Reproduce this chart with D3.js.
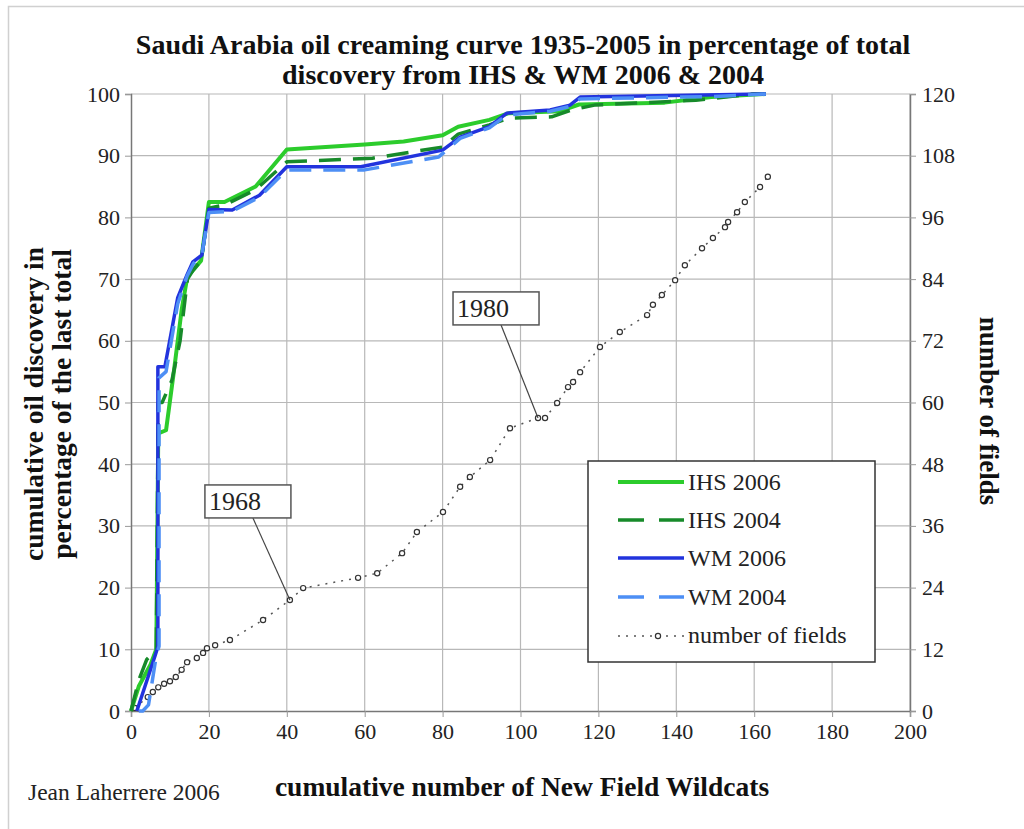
<!DOCTYPE html>
<html>
<head>
<meta charset="utf-8">
<script src="https://cdn.jsdelivr.net/npm/d3@7"></script>
<style>
  body { margin: 0; background: #fff; }
  text { font-family: "Liberation Serif", "Times New Roman", serif; }
</style>
</head>
<body>
<script>
// --- data ---
var ihs2006X = [0, 2, 5, 6.5, 7, 9, 11, 13, 14.5, 16, 18, 20, 24, 32, 40, 60, 70, 80, 84, 92, 97, 110, 115, 137, 149, 163];
var ihs2006Y = [0, 4, 7.5, 10, 45, 45.5, 55, 65, 70.5, 71.5, 73, 82.5, 82.5, 85, 91, 91.8, 92.3, 93.3, 94.7, 95.8, 96.9, 97.2, 98.3, 98.6, 99.5, 100];

var ihs2004X = [0, 2, 4, 6.5, 7, 8, 10.5, 12.6, 14.5, 16, 18, 20, 24, 32, 40, 62, 80, 84, 92, 97, 108, 113, 119, 145, 160, 163];
var ihs2004Y = [0, 5, 8.3, 10, 50, 50, 53.6, 60, 70, 71.5, 73, 81.5, 82, 84.5, 89, 89.6, 91.4, 93.5, 95, 96.1, 96.3, 97.4, 98.2, 99, 100, 100];

var wm2006X = [1.5, 6.2, 6.9, 6.9, 8.7, 12, 14.4, 15.9, 18.2, 20, 26, 33, 40, 59, 80, 84.5, 92, 96.5, 107.6, 112.7, 115.3, 163];
var wm2006Y = [0, 9, 10.4, 55.8, 55.8, 67, 70.7, 72.8, 73.9, 81.3, 81.2, 83.6, 88.2, 88.2, 90.9, 93, 94.7, 96.9, 97.4, 98.2, 99.5, 100];

var wm2004X = [2, 3, 4.5, 6.5, 7.2, 7.2, 9, 12, 14.4, 16, 18.2, 20, 26, 33, 40, 60, 79, 84.5, 92, 96.5, 107.6, 112.7, 115.3, 150, 163];
var wm2004Y = [0, 0, 1, 9, 10.5, 54, 55, 66, 70.5, 72.5, 74, 80.8, 81, 83.3, 87.7, 87.7, 89.8, 92.8, 94.5, 96.6, 97.2, 98.0, 99.2, 99.6, 100];

// number of fields (right axis)
var fieldsX = [1, 4.3, 5.6, 7, 8.5, 10, 11.5, 13, 14.4, 16.9, 18.5, 19.5, 21.6, 25.4, 33.9, 40.8, 44.2, 58.3, 63.2, 69.6, 73.4, 80.1, 84.5, 87, 92.2, 97.3, 104.5, 106.3, 109.4, 112.2, 113.5, 115.3, 120.4, 125.5, 132.5, 134, 136.3, 139.7, 142.2, 146.6, 149.4, 152.5, 153.3, 155.6, 157.6, 161.5, 163.5];
var fieldsY = [0.6, 2.7, 3.7, 4.6, 5.3, 5.8, 6.6, 8, 9.5, 10.3, 11.3, 12.2, 12.8, 13.8, 17.7, 21.6, 23.9, 25.9, 26.8, 30.7, 34.8, 38.7, 43.6, 45.5, 48.8, 55, 57, 57, 59.9, 63, 64, 65.9, 70.8, 73.7, 77, 79, 80.9, 83.8, 86.7, 90, 92, 94.1, 95.1, 97, 99, 101.9, 103.9];

var xTicks = [0, 20, 40, 60, 80, 100, 120, 140, 160, 180, 200];
var yLeftTicks = [0, 10, 20, 30, 40, 50, 60, 70, 80, 90, 100];
var yRightTicks = [0, 12, 24, 36, 48, 60, 72, 84, 96, 108, 120];

var seriesNames = ["IHS 2006", "IHS 2004", "WM 2006", "WM 2004", "number of fields"];
var annoLabels = ["1968", "1980"];
var annoX = [40.8, 104.5];
var annoY = [21.6, 57];

var width = 1024, height = 829;
var margin = { left: 131, right: 114, top: 94, bottom: 118 };

var svg = d3.select("body")
    .append("svg")
    .attr("width", width)
    .attr("height", height);

svg.append("rect").attr("width", width).attr("height", height).attr("fill", "#fff");

// faint outer frame
svg.append("path")
    .attr("d", "M8.5,829 L8.5,6.5 L1024,6.5")
    .attr("fill", "none")
    .attr("stroke", "#d0d0d0")
    .attr("stroke-width", 1.5);

var xScale = d3.scaleLinear().domain([0, 200]).range([margin.left, width - margin.right]);
var yScale = d3.scaleLinear().domain([0, 100]).range([height - margin.bottom, margin.top]);
var y2Scale = d3.scaleLinear().domain([0, 120]).range([height - margin.bottom, margin.top]);

// grid
svg.append("g").selectAll("line").data(xTicks.slice(1)).enter().append("line")
    .attr("x1", d => xScale(d)).attr("x2", d => xScale(d))
    .attr("y1", yScale(0)).attr("y2", yScale(100))
    .attr("stroke", "#b8b8b8").attr("stroke-width", 1.2);
svg.append("g").selectAll("line").data(yLeftTicks.slice(1)).enter().append("line")
    .attr("x1", xScale(0)).attr("x2", xScale(200))
    .attr("y1", d => yScale(d)).attr("y2", d => yScale(d))
    .attr("stroke", "#b8b8b8").attr("stroke-width", 1.2);

//Axis
var xAxis = d3.axisBottom(xScale).tickValues(xTicks).tickSize(6).tickPadding(4);
var yAxis = d3.axisLeft(yScale).tickValues(yLeftTicks).tickSize(6).tickPadding(5);
var y2Axis = d3.axisRight(y2Scale).tickValues(yRightTicks).tickSize(6).tickPadding(6);

function styleAxis(g) {
    g.select(".domain").attr("stroke", "#777").attr("stroke-width", 1.5);
    g.selectAll(".tick line").attr("stroke", "#999");
    g.selectAll("text")
        .attr("font-family", "Liberation Serif")
        .attr("font-size", 22)
        .attr("fill", "#222");
}

svg.append("g")
    .attr("transform", `translate(0,${yScale(0)})`)
    .call(xAxis).call(styleAxis)
    .selectAll("text").attr("dy", "0.8em");
svg.append("g")
    .attr("transform", `translate(${xScale(0)},0)`)
    .call(yAxis).call(styleAxis);
svg.append("g")
    .attr("transform", `translate(${xScale(200)},0)`)
    .call(y2Axis).call(styleAxis);

// number of fields
var fields = fieldsX.map((x, i) => ({ x: x, y: fieldsY[i] }));
var fieldLine = d3.line().x(d => xScale(d.x)).y(d => y2Scale(d.y));
svg.append("path")
    .datum(fields)
    .attr("d", fieldLine)
    .attr("fill", "none")
    .attr("stroke", "#555")
    .attr("stroke-width", 1.5)
    .attr("stroke-dasharray", "2,6");
svg.append("g").selectAll("circle").data(fields).enter().append("circle")
    .attr("cx", d => xScale(d.x)).attr("cy", d => y2Scale(d.y))
    .attr("r", 2.6)
    .attr("fill", "#fff")
    .attr("stroke", "#333")
    .attr("stroke-width", 1.2);

// creaming curves
var curves = [
    { name: seriesNames[0], xs: ihs2006X, ys: ihs2006Y, color: "#2ccc2c", w: 4, dash: null },
    { name: seriesNames[1], xs: ihs2004X, ys: ihs2004Y, color: "#178a2a", w: 3.5, dash: "22,12" },
    { name: seriesNames[2], xs: wm2006X, ys: wm2006Y, color: "#2233dd", w: 3.5, dash: null },
    { name: seriesNames[3], xs: wm2004X, ys: wm2004Y, color: "#4d8ff5", w: 3.5, dash: "22,12" }
];
var line = d3.line().x(d => xScale(d[0])).y(d => yScale(d[1]));
curves.forEach(function (c) {
    svg.append("path")
        .datum(c.xs.map((x, i) => [x, c.ys[i]]))
        .attr("d", line)
        .attr("fill", "none")
        .attr("stroke", c.color)
        .attr("stroke-width", c.w)
        .attr("stroke-linejoin", "round")
        .attr("stroke-dasharray", c.dash);
});

// annotations
annoLabels.forEach(function (lab, i) {
    var px = xScale(annoX[i]), py = y2Scale(annoY[i]);
    var bx = px - 85, by = i === 0 ? py - 115 : py - 126;
    svg.append("line")
        .attr("x1", bx + 48).attr("y1", by + 33)
        .attr("x2", px).attr("y2", py)
        .attr("stroke", "#444").attr("stroke-width", 1.2);
    svg.append("rect")
        .attr("x", bx).attr("y", by)
        .attr("width", 86).attr("height", 33)
        .attr("fill", "#fff").attr("stroke", "#555").attr("stroke-width", 1.5);
    svg.append("text")
        .attr("x", bx + 4).attr("y", by + 25)
        .attr("font-size", 26).attr("fill", "#222")
        .text(lab);
});

// legend
var legend = svg.append("g").attr("transform", "translate(588,461)");
legend.append("rect")
    .attr("width", 287).attr("height", 201)
    .attr("fill", "#fff").attr("stroke", "#333").attr("stroke-width", 1.5);
var rowY = [21, 59, 97, 136, 175];
curves.forEach(function (c, i) {
    legend.append("line")
        .attr("x1", 30).attr("x2", 96)
        .attr("y1", rowY[i]).attr("y2", rowY[i])
        .attr("stroke", c.color).attr("stroke-width", c.w)
        .attr("stroke-dasharray", c.dash ? "26,15" : null);
    legend.append("text")
        .attr("x", 100).attr("y", rowY[i] + 8)
        .attr("font-size", 24).attr("fill", "#222")
        .text(c.name);
});
legend.append("line")
    .attr("x1", 30).attr("x2", 96)
    .attr("y1", rowY[4]).attr("y2", rowY[4])
    .attr("stroke", "#555").attr("stroke-width", 1.5).attr("stroke-dasharray", "2,6");
legend.append("circle")
    .attr("cx", 70).attr("cy", rowY[4]).attr("r", 2.6)
    .attr("fill", "#fff").attr("stroke", "#333").attr("stroke-width", 1.2);
legend.append("text")
    .attr("x", 100).attr("y", rowY[4] + 7)
    .attr("font-size", 24).attr("fill", "#222")
    .text(seriesNames[4]);

// titles
var title = svg.append("text")
    .attr("text-anchor", "middle")
    .attr("font-size", 28).attr("font-weight", "bold").attr("fill", "#111");
title.append("tspan").attr("x", 523).attr("y", 54).text("Saudi Arabia oil creaming curve 1935-2005 in percentage of total");
title.append("tspan").attr("x", 523).attr("y", 84).text("discovery from IHS & WM 2006 & 2004");

svg.append("text")
    .attr("x", 522).attr("y", 796)
    .attr("text-anchor", "middle")
    .attr("font-size", 27.5).attr("font-weight", "bold").attr("fill", "#111")
    .text("cumulative number of New Field Wildcats");

svg.append("text")
    .attr("x", 28).attr("y", 800)
    .attr("font-size", 23.5).attr("fill", "#222")
    .text("Jean Laherrere 2006");

var yl = svg.append("text")
    .attr("transform", "translate(43,404) rotate(-90)")
    .attr("text-anchor", "middle")
    .attr("font-size", 27.5).attr("font-weight", "bold").attr("fill", "#111");
yl.append("tspan").attr("x", 0).attr("y", 0).text("cumulative oil discovery in");
yl.append("tspan").attr("x", 0).attr("y", 28).text("percentage of the last total");

svg.append("text")
    .attr("transform", "translate(980,411) rotate(90)")
    .attr("text-anchor", "middle")
    .attr("font-size", 27).attr("font-weight", "bold").attr("fill", "#111")
    .text("number of fields");
</script>
</body>
</html>
